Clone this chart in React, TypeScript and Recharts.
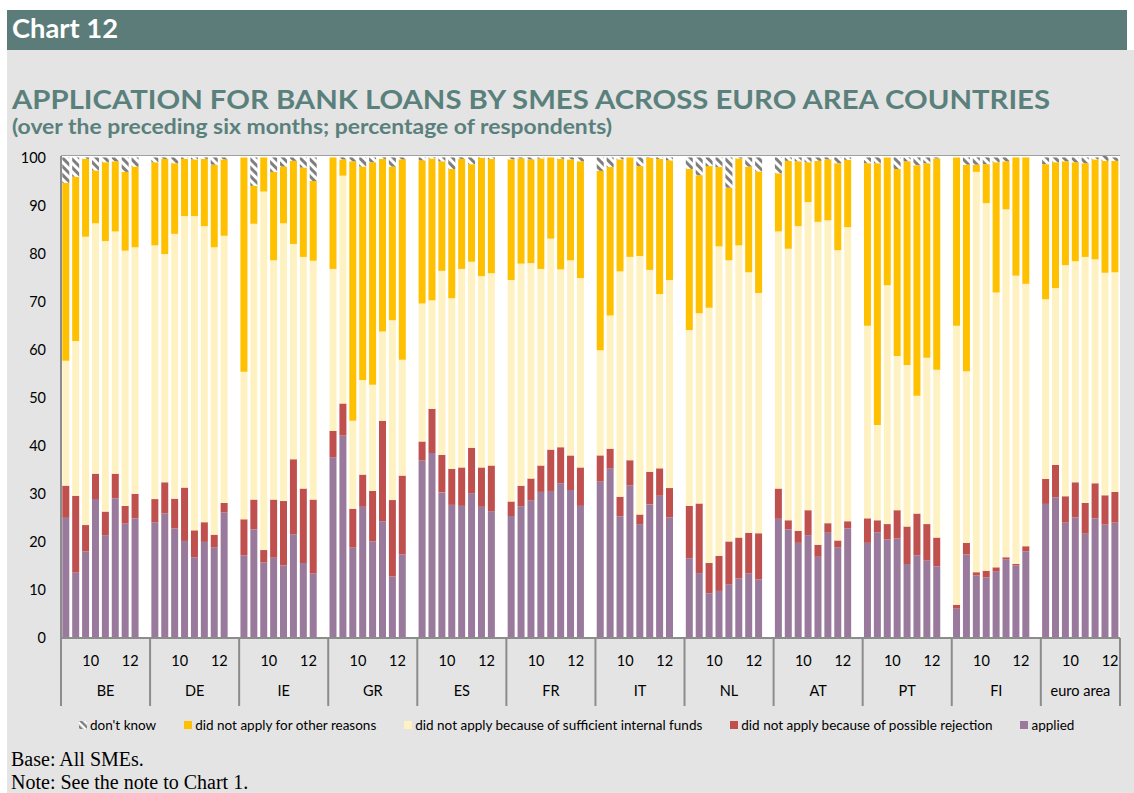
import React from 'react';
import { BarChart, Bar, XAxis, YAxis, CartesianGrid, Legend } from 'recharts';

// ---------- data (percentage of respondents) ----------
const countries = ['BE', 'DE', 'IE', 'GR', 'ES', 'FR', 'IT', 'NL', 'AT', 'PT', 'FI', 'euro area'];
// survey rounds: H1 2009 ... H2 2012
const rounds = ['09H1', '09H2', '10H1', '10H2', '11H1', '11H2', '12H1', '12H2'];
const yearTickLabels = ['10', '12']; // shown centred on the 2010 and 2012 pairs
const yearTickSlots = [2, 6];
const yTicks = [0, 10, 20, 30, 40, 50, 60, 70, 80, 90, 100];

const applied = [
  [25.0, 13.6, 18.0, 28.9, 21.4, 29.1, 23.8, 24.9],
  [24.1, 25.9, 22.8, 20.2, 16.8, 20.0, 18.9, 26.1],
  [17.2, 22.6, 15.7, 16.7, 15.1, 21.6, 15.6, 13.4],
  [37.6, 42.1, 18.8, 27.3, 20.1, 24.3, 12.8, 17.4],
  [36.9, 38.5, 30.3, 27.7, 27.5, 30.1, 27.3, 26.4],
  [25.4, 27.4, 28.6, 30.4, 30.6, 32.2, 30.8, 27.5],
  [32.6, 35.3, 25.3, 31.7, 23.7, 27.8, 29.6, 25.1],
  [16.6, 13.5, 9.3, 9.8, 11.1, 12.4, 13.4, 12.2],
  [24.8, 22.6, 19.8, 21.4, 16.9, 21.9, 18.9, 22.8],
  [19.8, 22.0, 20.5, 20.7, 15.4, 17.2, 16.1, 14.9],
  [6.1, 17.4, 13.0, 12.6, 13.8, 16.4, 15.1, 18.0],
  [27.9, 29.3, 24.0, 25.1, 21.7, 24.9, 23.6, 24.0],
];
const possibleRejection = [
  [6.7, 16.0, 5.5, 5.3, 4.9, 5.1, 3.7, 5.1],
  [4.8, 6.5, 6.2, 11.1, 5.6, 4.1, 2.6, 2.0],
  [7.5, 6.2, 2.6, 12.1, 13.4, 15.6, 15.5, 15.4],
  [5.5, 6.7, 8.1, 6.7, 10.5, 20.9, 15.9, 16.4],
  [4.0, 9.2, 7.8, 7.5, 8.0, 9.5, 8.2, 9.5],
  [3.0, 4.3, 4.6, 5.5, 8.6, 7.5, 7.2, 8.0],
  [5.4, 4.1, 4.1, 5.3, 2.0, 6.8, 5.7, 6.1],
  [10.9, 14.5, 6.3, 7.3, 9.0, 8.5, 8.5, 9.6],
  [6.3, 1.9, 2.5, 5.2, 2.5, 2.0, 1.4, 1.5],
  [5.1, 2.5, 3.2, 5.9, 7.8, 8.7, 7.6, 6.0],
  [0.8, 2.4, 0.7, 1.4, 0.9, 0.4, 0.3, 1.1],
  [5.2, 6.7, 5.5, 7.3, 6.4, 7.3, 6.1, 6.4],
];
const internalFunds = [
  [26.0, 32.2, 60.0, 52.1, 56.3, 50.4, 53.1, 51.3],
  [52.8, 47.5, 55.1, 56.5, 65.4, 61.6, 59.8, 55.6],
  [30.7, 57.4, 74.6, 49.8, 57.8, 44.8, 48.2, 49.7],
  [33.7, 47.4, 18.3, 19.7, 22.1, 18.6, 37.4, 24.1],
  [28.7, 22.6, 38.3, 35.5, 41.3, 38.7, 39.8, 40.0],
  [46.1, 46.2, 44.8, 40.9, 43.9, 37.0, 40.6, 39.4],
  [21.9, 27.7, 46.9, 42.3, 53.8, 42.0, 36.3, 43.3],
  [36.6, 39.6, 53.1, 64.4, 58.5, 60.8, 54.2, 50.0],
  [53.5, 56.5, 63.4, 64.1, 67.2, 63.0, 60.4, 61.2],
  [40.1, 19.8, 49.7, 32.1, 33.6, 24.5, 34.6, 34.9],
  [58.1, 35.7, 83.3, 76.5, 57.2, 72.4, 60.0, 54.6],
  [37.4, 36.8, 48.1, 46.0, 51.2, 46.6, 46.3, 45.7],
];
const otherReasons = [
  [37.0, 34.2, 16.2, 11.0, 16.4, 14.6, 16.4, 16.8],
  [17.3, 19.8, 14.7, 11.9, 11.8, 14.0, 17.2, 15.9],
  [44.6, 7.9, 7.1, 18.4, 11.8, 17.3, 18.6, 16.6],
  [23.2, 3.4, 54.0, 44.4, 46.3, 35.9, 32.0, 41.7],
  [29.8, 29.5, 22.8, 26.9, 22.9, 20.3, 24.6, 23.8],
  [25.1, 21.9, 21.6, 23.0, 16.9, 23.0, 21.0, 24.3],
  [37.3, 30.9, 23.3, 20.7, 18.7, 23.3, 28.1, 24.9],
  [33.5, 28.7, 29.5, 16.5, 15.1, 18.1, 22.0, 25.3],
  [12.1, 18.3, 13.5, 8.3, 12.7, 12.7, 18.1, 14.0],
  [33.8, 54.5, 26.6, 38.9, 42.4, 48.0, 40.5, 44.0],
  [35.0, 43.0, 1.5, 8.1, 27.1, 10.0, 24.6, 26.3],
  [28.1, 26.2, 21.6, 20.6, 19.5, 20.8, 23.3, 23.2],
];
const dontKnow = [
  [5.3, 4.0, 0.3, 2.7, 1.0, 0.8, 3.0, 1.9],
  [1.0, 0.3, 1.2, 0.3, 0.4, 0.3, 1.5, 0.4],
  [0.0, 5.9, 0.0, 3.0, 1.9, 0.7, 2.1, 4.9],
  [0.0, 0.4, 0.8, 1.9, 1.0, 0.3, 1.9, 0.4],
  [0.6, 0.2, 0.8, 2.4, 0.3, 1.4, 0.1, 0.3],
  [0.4, 0.2, 0.4, 0.2, 0.0, 0.3, 0.4, 0.8],
  [2.8, 2.0, 0.4, 0.0, 1.8, 0.1, 0.3, 0.6],
  [2.4, 3.7, 1.8, 2.0, 6.3, 0.2, 1.9, 2.9],
  [3.3, 0.7, 0.8, 1.0, 0.7, 0.4, 1.2, 0.5],
  [1.2, 1.2, 0.0, 2.4, 0.8, 1.6, 1.2, 0.2],
  [0.0, 1.5, 1.5, 1.4, 1.0, 0.8, 0.0, 0.0],
  [1.4, 1.0, 0.8, 1.0, 1.2, 0.4, 1.0, 0.7],
];

// ---------- series ----------
const series = [
  { key: 'applied', name: 'applied', fill: '#9A7A9C' },
  { key: 'rejection', name: 'did not apply because of possible rejection', fill: '#C0504D' },
  { key: 'internal', name: 'did not apply because of sufficient internal funds', fill: '#FFF2C2' },
  { key: 'other', name: 'did not apply for other reasons', fill: '#FFC000' },
  { key: 'dontKnow', name: "don't know", fill: 'url(#dkHatch)' },
];

// ---------- table for the chart ----------
type Row = { [k: string]: any };
const rows: Row[] = [];
countries.forEach((c, ci) => {
  rounds.forEach((r, ri) => {
    rows.push({
      key: `${c}-${r}`,
      country: c,
      ci,
      slot: ri,
      applied: applied[ci][ri],
      rejection: possibleRejection[ci][ri],
      internal: internalFunds[ci][ri],
      other: otherReasons[ci][ri],
      dontKnow: dontKnow[ci][ri],
    });
  });
  if (ci < countries.length - 1) rows.push({ key: `${c}-gap`, country: c, ci, slot: 8 });
});
const rowByKey: { [k: string]: Row } = {};
rows.forEach((r) => (rowByKey[r.key] = r));
const slotsOf = (ci: number) => (ci < countries.length - 1 ? 9 : 8);

// ---------- layout ----------
const CHART_W = 1134;
const CHART_H = 620;
const MARGIN = { top: 16, right: 14, left: 0, bottom: 52 };
const Y_AXIS_W = 61;
const PLOT_W = CHART_W - MARGIN.left - MARGIN.right - Y_AXIS_W;
const BAND = PLOT_W / rows.length;
const AXIS_GREY = '#8C8C8C';
const SANS = 'Lato, "Open Sans", sans-serif';

const XTick = (props: any) => {
  const { x, y, payload } = props;
  const row = rowByKey[payload.value];
  if (!row) return <g />;
  const half = BAND / 2;
  const parts: any[] = [];
  if (row.slot === 0) {
    const gx = x - half;
    parts.push(<line key="sep" x1={gx} x2={gx} y1={y} y2={y + 68} stroke={AXIS_GREY} strokeWidth={2} />);
    parts.push(
      <text key="c" x={gx + (slotsOf(row.ci) * BAND) / 2} y={y + 58} textAnchor="middle" fontSize={14.5} fontFamily={SANS} fill="#000">
        {row.country}
      </text>
    );
  }
  const yi = yearTickSlots.indexOf(row.slot);
  if (yi >= 0) {
    parts.push(
      <text key="yr" x={x + half} y={y + 28} textAnchor="middle" fontSize={14.5} fontFamily={SANS} fill="#000">
        {yearTickLabels[yi]}
      </text>
    );
  }
  if (row.ci === countries.length - 1 && row.slot === rounds.length - 1) {
    parts.push(<line key="end" x1={x + half} x2={x + half} y1={y} y2={y + 68} stroke={AXIS_GREY} strokeWidth={2} />);
  }
  return <g>{parts}</g>;
};

const LegendContent = () => (
  <div style={{ display: 'flex', alignItems: 'center', fontFamily: SANS, fontSize: 13.5, color: '#000', lineHeight: '16px', whiteSpace: 'nowrap' }}>
    {[...series].reverse().map((s, i) => (
      <div key={s.key} style={{ display: 'flex', alignItems: 'center', marginLeft: i === 0 ? 0 : 28 }}>
        <svg width={8} height={8} style={{ marginRight: 3 }}>
          <defs>
            <pattern id={`lg-${s.key}`} width="5" height="5" patternUnits="userSpaceOnUse" patternTransform="rotate(-45)">
              <rect width="5" height="5" fill="#fff" />
              <rect width="2.5" height="5" fill="#7F7F7F" />
            </pattern>
          </defs>
          <rect width={8} height={8} fill={s.key === 'dontKnow' ? `url(#lg-${s.key})` : s.fill} />
        </svg>
        <span>{s.name}</span>
      </div>
    ))}
  </div>
);

export default function App() {
  return (
    <div style={{ position: 'absolute', left: 0, top: 0, width: 1134, height: 793, overflow: 'hidden', background: '#fff' }}>
      <div style={{ position: 'absolute', left: 7, top: 50, width: 1127, height: 743, background: '#E4E4E4' }} />
      <svg style={{ position: 'absolute', left: 0, top: 0 }} width={1134} height={145}>
        <rect x={7} y={10} width={1120} height={40} fill="#5B7C79" />
        <text x={12} y={38} fill="#fff" fontFamily={SANS} fontWeight={700} fontSize={27} textLength={106} lengthAdjust="spacingAndGlyphs">
          Chart 12
        </text>
        <text x={12} y={109} fill="#5A807C" fontFamily={SANS} fontWeight={700} fontSize={27.5} textLength={1038} lengthAdjust="spacingAndGlyphs">
          APPLICATION FOR BANK LOANS BY SMES ACROSS EURO AREA COUNTRIES
        </text>
        <text x={12} y={134} fill="#5A807C" fontFamily={SANS} fontWeight={700} fontSize={20} textLength={600} lengthAdjust="spacingAndGlyphs">
          (over the preceding six months; percentage of respondents)
        </text>
      </svg>

      <div style={{ position: 'absolute', left: 0, top: 140 }}>
        <BarChart width={CHART_W} height={CHART_H} data={rows} margin={MARGIN} barCategoryGap="13%">
          <defs>
            <pattern id="dkHatch" width="6" height="6" patternUnits="userSpaceOnUse" patternTransform="rotate(-45)">
              <rect width="6" height="6" fill="#fff" />
              <rect width="3" height="6" fill="#7F7F7F" />
            </pattern>
          </defs>
          <rect x={Y_AXIS_W} y={MARGIN.top} width={PLOT_W} height={CHART_H - MARGIN.top - MARGIN.bottom - 70} fill="#fff" />
          <CartesianGrid vertical={false} stroke="#8A8A8A" strokeWidth={1.5} />
          <XAxis
            dataKey="key"
            type="category"
            interval={0}
            height={70}
            tickLine={false}
            tickSize={0}
            tickMargin={0}
            axisLine={{ stroke: AXIS_GREY, strokeWidth: 2 }}
            tick={<XTick />}
          />
          <YAxis
            type="number"
            domain={[0, 100]}
            ticks={yTicks}
            width={Y_AXIS_W}
            tickLine={false}
            tickSize={0}
            tickMargin={15}
            axisLine={{ stroke: AXIS_GREY, strokeWidth: 2 }}
            tick={{ fontSize: 14.5, fill: '#000', fontFamily: SANS }}
            interval={0}
          />
          {series.map((s) => (
            <Bar key={s.key} dataKey={s.key} name={s.name} stackId="s" fill={s.fill} isAnimationActive={false} />
          ))}
          <Legend
            layout="horizontal"
            verticalAlign="middle"
            align="center"
            content={<LegendContent />}
            wrapperStyle={{ left: 79, top: 577, width: 1040, height: 16 }}
          />
        </BarChart>
      </div>

      <div style={{ position: 'absolute', left: 11, top: 748, fontFamily: '"Liberation Serif", "Times New Roman", serif', fontSize: 20, lineHeight: '22.5px', color: '#000' }}>
        <div>Base: All SMEs.</div>
        <div>Note: See the note to Chart 1.</div>
      </div>
    </div>
  );
}
